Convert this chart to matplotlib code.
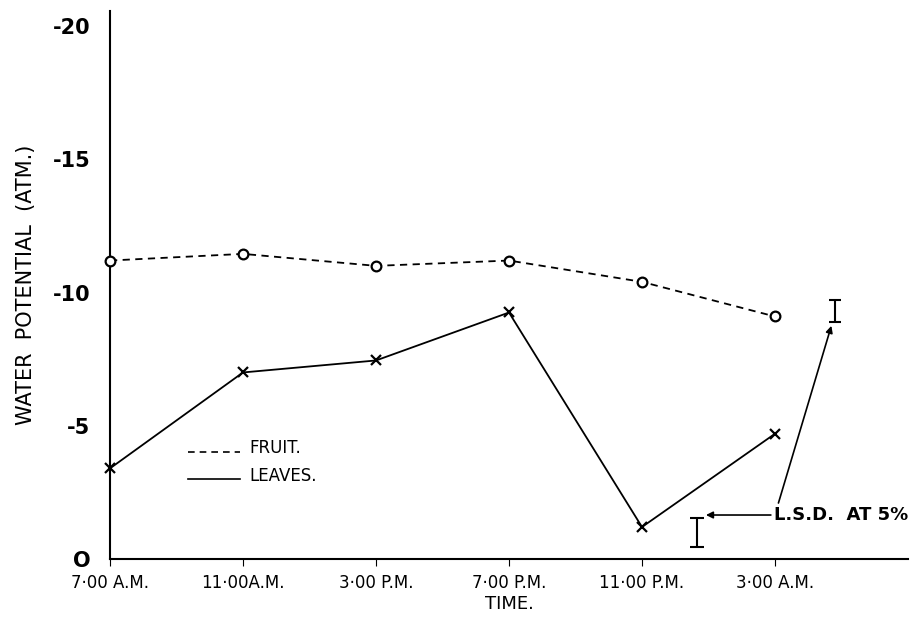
import matplotlib.pyplot as plt
import numpy as np

# data
times = ["7·00 A.M.", "11·00A.M.", "3·00 P.M.", "7·00 P.M.", "11·00 P.M.", "3·00 A.M."]
fruit = [-11.2, -11.45, -11.0, -11.2, -10.4, -9.1]
leaves = [-3.4, -7.0, -7.45, -9.25, -1.2, -4.7]
lsd_leaves = [-1.0, 0.55]   # centre, half width
lsd_fruit = [-9.3, 0.42]
yticks = [0, -5, -10, -15, -20]
ylabels = ["O", "-5", "-10", "-15", "-20"]

plt.rcParams['font.family'] = ['DejaVu Sans']
fig = plt.figure(figsize=(9.19, 6.18), dpi=100)
ax = fig.add_axes([0.1197, 0.0955, 0.8683, 0.8865])

x = np.arange(len(times))
ax.plot(x, fruit, color='black', ls=(0, (4, 3)), lw=1.3, marker='o', ms=7,
        mfc='white', mec='black', mew=1.6, label='FRUIT.', clip_on=False, zorder=3)
ax.plot(x, leaves, color='black', ls='-', lw=1.3, marker='x', ms=7, mew=1.6,
        label='LEAVES.', clip_on=False, zorder=3)

ax.errorbar([4.41], [lsd_leaves[0]], yerr=[lsd_leaves[1]], color='black',
            capsize=5, lw=1.5, capthick=1.5)
ax.errorbar([5.45], [lsd_fruit[0]], yerr=[lsd_fruit[1]], color='black',
            capsize=4, lw=1.5, capthick=1.5, ls='none')

ax.text(4.99, -1.65, "L.S.D.  AT 5%", fontsize=13, fontweight='bold',
        va='center', ha='left')
ax.annotate("", xy=(4.46, -1.65), xytext=(4.99, -1.65),
            arrowprops=dict(arrowstyle='-|>', color='black', lw=1.2, mutation_scale=10))
ax.annotate("", xy=(5.43, -8.85), xytext=(5.02, -2.0),
            arrowprops=dict(arrowstyle='-|>', color='black', lw=1.2, mutation_scale=10))

# hand-drawn style legend
ax.plot([0.59, 0.98], [-4.0, -4.0], color='black', ls=(0, (4, 3)), lw=1.2)
ax.plot([0.59, 0.98], [-3.0, -3.0], color='black', ls='-', lw=1.2)
ax.text(1.05, -4.15, "FRUIT.", fontsize=12, va='center')
ax.text(1.05, -3.1, "LEAVES.", fontsize=12, va='center')

ax.set_xlim(0, 6)
ax.set_ylim(0, -20.56)
ax.set_xticks(x)
ax.set_xticklabels(times, fontsize=12)
ax.set_yticks(yticks)
ax.set_yticklabels(ylabels, fontsize=15, fontweight='bold')
ax.tick_params(axis='y', length=0, pad=14)
ax.tick_params(axis='x', length=5, direction='out', pad=6)
for s in ['top', 'right']:
    ax.spines[s].set_visible(False)
ax.spines['left'].set_linewidth(1.5)
ax.spines['bottom'].set_linewidth(1.5)
ax.set_xlabel("TIME.", fontsize=13, labelpad=2)
ax.set_ylabel("WATER  POTENTIAL  (ATM.)", fontsize=15, labelpad=12)

fig.savefig("out.png", dpi=100)
